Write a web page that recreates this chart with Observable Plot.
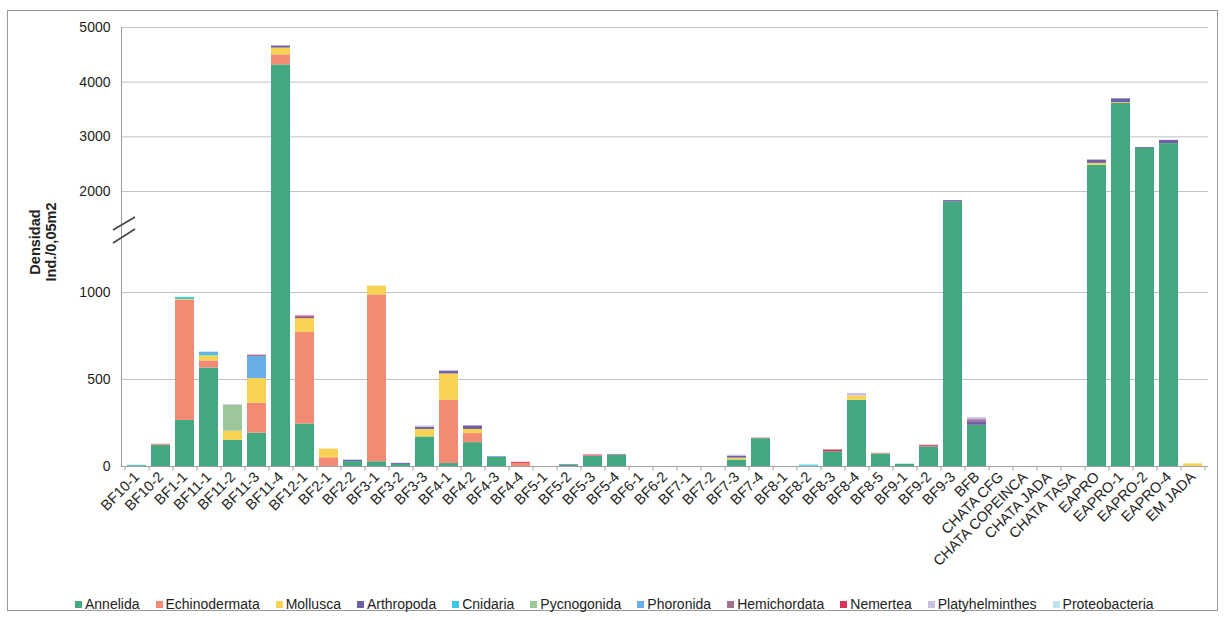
<!DOCTYPE html>
<html>
<head>
<meta charset="utf-8">
<script src="https://cdn.jsdelivr.net/npm/d3@7"></script>
<script src="https://cdn.jsdelivr.net/npm/@observablehq/plot@0.6"></script>
<style>
  body { margin: 0; background: #fff; font-family: "Liberation Sans", Arial, sans-serif; }
  #wrap { position: relative; width: 1224px; height: 620px; overflow: hidden; background: #fff; }
  #box { position: absolute; left: 7px; top: 10px; width: 1211px; height: 601px; border: 1px solid #9a9a9a; box-sizing: border-box; }
  #chart { position: absolute; left: 0; top: 0; }
  #ytitle { position: absolute; left: 43px; top: 242px; transform: translate(-50%, -50%) rotate(-90deg); font-weight: bold; font-size: 14.5px; line-height: 16px; text-align: center; white-space: nowrap; color: #222; }
  #legend { position: absolute; left: 75px; top: 596px; display: flex; align-items: center; font-size: 14px; color: #222; white-space: nowrap; }
  #legend .item { display: flex; align-items: center; margin-right: 16px; }
  #legend .sw { width: 7px; height: 7px; margin-right: 3px; }
  #brk { position: absolute; left: 0; top: 0; }
</style>
</head>
<body>
<div id="wrap">
  <div id="box"></div>
  <div id="chart"></div>
  <div id="ytitle">Densidad<br>Ind./0,05m2</div>
  <svg id="brk" width="150" height="260"><g stroke="#444" stroke-width="1.6"><line x1="113" y1="230" x2="135" y2="217"/><line x1="113" y1="243" x2="135" y2="229"/></g></svg>
  <div id="legend"></div>
</div>
<script>
const categories = ["BF10-1","BF10-2","BF1-1","BF11-1","BF11-2","BF11-3","BF11-4","BF12-1","BF2-1","BF2-2",
  "BF3-1","BF3-2","BF3-3","BF4-1","BF4-2","BF4-3","BF4-4","BF5-1","BF5-2","BF5-3",
  "BF5-4","BF6-1","BF6-2","BF7-1","BF7-2","BF7-3","BF7-4","BF8-1","BF8-2","BF8-3",
  "BF8-4","BF8-5","BF9-1","BF9-2","BF9-3","BFB","CHATA CFG","CHATA COPEINCA","CHATA JADA","CHATA TASA",
  "EAPRO","EAPRO-1","EAPRO-2","EAPRO-4","EM JADA"];

const seriesNames = ["Annelida","Echinodermata","Mollusca","Arthropoda","Cnidaria","Pycnogonida","Phoronida","Hemichordata","Nemertea","Platyhelminthes","Proteobacteria"];
const seriesColors = ["#43a880","#f28a74","#f7d253","#6e5fa6","#3ec6e6","#9cc79a","#68aee8","#a5728f","#d8345a","#c9c0e6","#bfe3f1"];

const annelida      = [4,122,265,566,150,192,4315,244,0,28, 27,12,170,17,137,52,0,0,8,58, 63,0,0,0,0,37,160,0,2,85, 380,72,13,112,1895,237,0,0,0,0, 2480,3610,2790,2875,0];
const echinodermata = [0,6,690,41,0,172,185,526,50,0, 959,0,0,363,52,0,18,0,0,3, 3,0,0,0,0,0,4,0,0,0, 0,4,0,0,0,0,0,0,0,0, 0,0,0,0,0];
const mollusca      = [0,0,5,29,53,141,124,80,50,0, 77,0,43,152,24,0,0,0,0,0, 0,0,0,0,0,11,0,0,0,0, 25,0,0,0,0,0,0,0,0,0, 35,15,0,0,15];
const arthropoda    = [0,0,0,0,0,0,37,8,0,8, 0,6,12,16,20,3,0,0,3,0, 3,0,0,0,0,11,0,0,0,0, 0,0,0,0,15,20,0,0,0,0, 60,70,15,60,0];
const cnidaria      = [3,0,12,8,0,0,0,0,0,0, 0,0,0,0,0,2,0,0,0,0, 0,0,0,0,0,0,0,0,6,0, 0,0,0,0,0,0,0,0,0,0, 0,0,0,0,0];
const pycnogonida   = [0,0,0,0,149,0,0,0,0,0, 0,0,0,0,0,0,0,0,0,0, 0,0,0,0,0,0,0,0,0,0, 0,0,0,0,0,0,0,0,0,0, 0,0,0,0,0];
const phoronida     = [0,0,0,13,0,127,0,0,0,0, 0,0,0,0,0,0,0,0,0,0, 0,0,0,0,0,0,0,0,0,0, 0,0,0,0,0,0,0,0,0,0, 0,0,0,0,0];
const hemichordata  = [0,0,0,0,0,8,0,0,0,0, 0,0,0,0,0,0,0,0,0,0, 0,0,0,0,0,0,0,0,0,0, 0,0,0,4,0,12,0,0,0,0, 0,0,0,0,0];
const nemertea      = [0,0,0,0,0,0,0,7,0,0, 0,0,0,0,0,0,6,0,0,5, 0,0,0,0,0,0,0,0,0,10, 0,0,0,6,0,0,0,0,0,0, 0,0,0,0,0];
const platyhelminthes = [0,0,0,0,3,0,0,0,0,0, 0,0,8,0,0,0,0,0,0,0, 0,0,0,0,0,6,0,0,0,0, 15,0,0,0,0,12,0,0,0,0, 0,0,0,0,0];
const proteobacteria  = [0,0,0,0,0,0,0,0,0,0, 0,0,0,0,0,0,0,0,0,0, 0,0,0,0,0,0,0,0,0,0, 0,0,0,0,0,0,0,0,0,0, 0,0,0,0,0];

const yTicks = [0, 500, 1000, 2000, 3000, 4000, 5000];
const yBreakDomain = [0, 1000, 2000, 5000];

const seriesValues = [annelida, echinodermata, mollusca, arthropoda, cnidaria, pycnogonida, phoronida, hemichordata, nemertea, platyhelminthes, proteobacteria];
const rows = seriesNames.flatMap((s, i) => categories.map((c, j) => ({category: c, phylum: s, value: seriesValues[i][j]})));

const chart = Plot.plot({
  width: 1224,
  height: 590,
  marginLeft: 121,
  marginRight: 16,
  marginTop: 27,
  marginBottom: 124,
  style: {fontFamily: '"Liberation Sans", Arial, sans-serif', fontSize: "14px", color: "#1e1e1e", background: "transparent"},
  x: {domain: categories, paddingInner: 0.2, paddingOuter: 0.1, label: null},
  y: {type: "linear", domain: yBreakDomain, range: [466, 292, 191, 27], label: null},
  color: {domain: seriesNames, range: seriesColors},
  marks: [
    Plot.gridY(yTicks, {stroke: "#c2c2c2", strokeOpacity: 1}),
    Plot.barY(rows, {x: "category", y: "value", fill: "phylum"}),
    Plot.ruleY([0], {stroke: "#a0a0a0"}),
    Plot.ruleX(categories, {x: d => d, y1: 0, y2: -25, dx: -12, stroke: "#a0a0a0"}),
    Plot.ruleX(categories.slice(-1), {x: d => d, y1: 0, y2: -25, dx: 12, stroke: "#a0a0a0"}),
    Plot.frame({anchor: "left", stroke: "#9a9a9a"}),
    Plot.axisY(yTicks, {tickSize: 0, tickPadding: 11, fontSize: 14, label: null, tickFormat: d => String(d)}),
    Plot.axisX({tickRotate: -45, tickSize: 0, tickPadding: 8, fontSize: 14.5, label: null})
  ]
});
document.getElementById("chart").appendChild(chart);

const legend = document.getElementById("legend");
seriesNames.forEach((s, i) => {
  const item = document.createElement("div");
  item.className = "item";
  const sw = document.createElement("span");
  sw.className = "sw";
  sw.style.background = seriesColors[i];
  const t = document.createElement("span");
  t.textContent = s;
  item.appendChild(sw);
  item.appendChild(t);
  legend.appendChild(item);
});
</script>
</body>
</html>
